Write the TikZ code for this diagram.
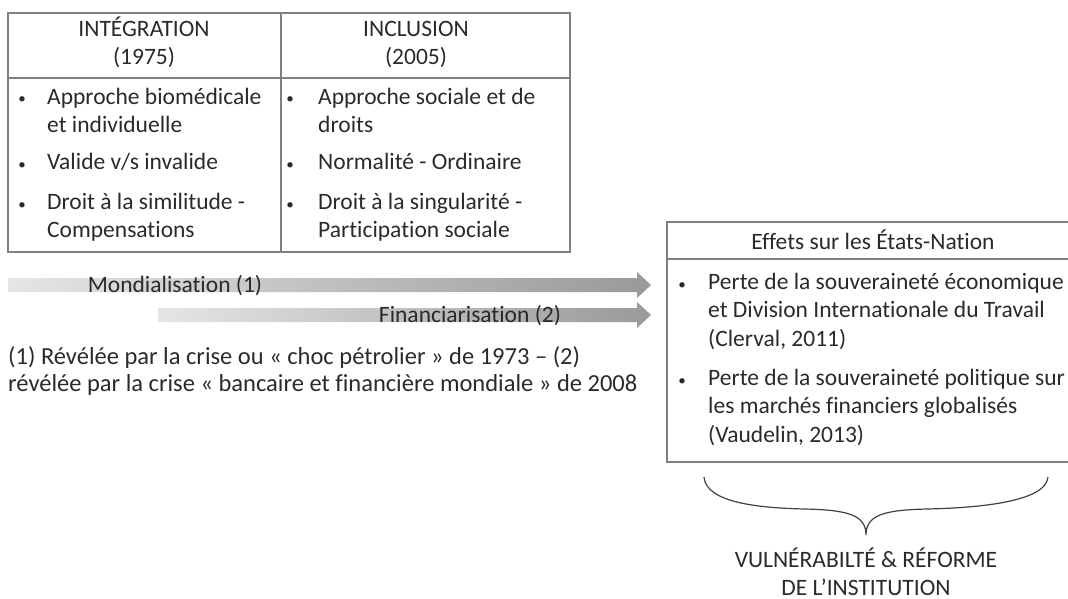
\documentclass[tikz,border=0pt]{standalone}
\usepackage{fontspec}
\setmainfont{Carlito}[Ligatures=NoCommon]

\definecolor{trait}{HTML}{808080}
\definecolor{texte}{HTML}{2A2A2A}

\begin{document}
\begin{tikzpicture}[x=1pt,y=-1pt]
\tikzstyle{every node}+=[inner sep=0pt,text=texte,font=\fontsize{23.5}{28}\selectfont]
\tikzstyle{titre}=[align=center,anchor=base]
\tikzstyle{item}=[align=left,anchor=base west]
\tikzstyle{puce}=[anchor=base,font=\fontsize{15}{15}\selectfont]
\tikzstyle{cadre}=[trait,line width=1.5pt]
\tikzstyle{fleche}=[left color=black!10,right color=black!40]
\useasboundingbox (0,0) rectangle (1068,599);
\draw[cadre] (8,13) rectangle (570,252);
\draw[cadre] (8,78) -- (570,78);
\draw[cadre] (281,13) -- (281,252);
\node[titre] (integ) at (144,65) {INTÉGRATION\\(1975)};
\node[titre] (incl) at (416,65) {INCLUSION\\(2005)};
\node[puce] (pa1) at (22,104) {\textbullet};
\node[item] (a1) at (47,132) {Approche biomédicale\\et individuelle};
\node[puce] (pa2) at (22,169) {\textbullet};
\node[item] (a2) at (47,169) {Valide v/s invalide};
\node[puce] (pa3) at (22,209) {\textbullet};
\node[item] (a3) at (47,237) {Droit à la similitude -\\Compensations};
\node[puce] (pb1) at (290,104) {\textbullet};
\node[item] (b1) at (318,132) {Approche sociale et de\\droits};
\node[puce] (pb2) at (290,169) {\textbullet};
\node[item] (b2) at (318,169) {Normalité - Ordinaire};
\node[puce] (pb3) at (290,209) {\textbullet};
\node[item] (b3) at (318,237) {Droit à la singularité -\\Participation sociale};
\shade[fleche] (8,278) -- (637,278) -- (637,272) -- (651,285) -- (637,298) -- (637,292) -- (8,292) -- cycle;
\shade[fleche] (158,308) -- (637,308) -- (637,302) -- (651,315) -- (637,328) -- (637,322) -- (158,322) -- cycle;
\node[anchor=base] (lmond) at (175,292) {Mondialisation (1)};
\node[anchor=base] (lfin) at (470,322) {Financiarisation (2)};
\node[item,font=\fontsize{24.5}{27}\selectfont] (note) at (8,391)
  {(1) Révélée par la crise ou « choc pétrolier » de 1973 – (2)\\révélée par la crise « bancaire et financière mondiale » de 2008};
\draw[cadre] (1068,222) -- (667,222) -- (667,462) -- (1068,462);
\draw[cadre] (667,259) -- (1068,259);
\node[titre] (effets) at (873,249) {Effets sur les États-Nation};
\node[puce] (pc1) at (682,289) {\textbullet};
\node[item,font=\fontsize{23.5}{28.5}\selectfont] (c1) at (708,346)
  {Perte de la souveraineté économique\\et Division Internationale du Travail\\(Clerval, 2011)};
\node[puce] (pc2) at (682,385) {\textbullet};
\node[item,font=\fontsize{23.5}{28.5}\selectfont] (c2) at (708,442)
  {Perte de la souveraineté politique sur\\les marchés financiers globalisés\\(Vaudelin, 2013)};
\draw[black!75,line width=1.2pt] (704,477) .. controls (706,503) and (760,508) .. (805,509)
  .. controls (848,510) and (866,515) .. (866,535)
  .. controls (866,515) and (884,510) .. (927,509)
  .. controls (972,508) and (1046,503) .. (1048,477);
\node[titre] (vuln) at (866,595) {VULNÉRABILTÉ \& RÉFORME\\DE L’INSTITUTION};
\end{tikzpicture}
\end{document}
